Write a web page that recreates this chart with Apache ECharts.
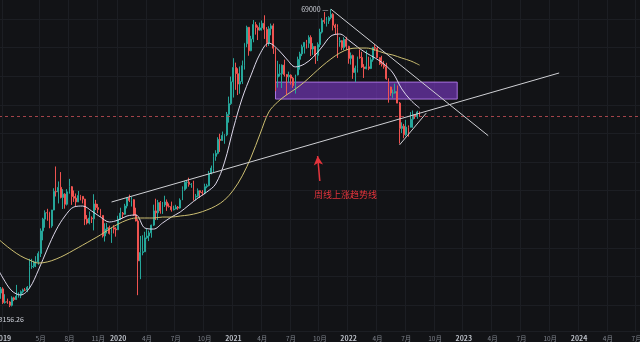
<!DOCTYPE html>
<html>
<head>
<meta charset="utf-8">
<script src="https://cdn.jsdelivr.net/npm/echarts@6/dist/echarts.min.js"></script>
<style>
  html, body { margin: 0; padding: 0; background: #121316; }
  #chart { width: 640px; height: 342px; }
</style>
</head>
<body>
<div id="chart"></div>
<script>
// BTC/USDT weekly candles, one row per week from 2018-12-10: [open, close, low, high]
const candles = [
  [3612, 3252, 3156.26, 3645], [3252, 3948, 3242, 4236], [3948, 3866, 3535, 4198], [3866, 4032, 3645, 4110],
  // 2019
  [4032, 3508, 3460, 4100], [3508, 3535, 3472, 3820], [3535, 3530, 3465, 3653], [3530, 3413, 3350, 3560],
  [3413, 3680, 3373, 3740], [3680, 3620, 3560, 3720], [3620, 3745, 3600, 4198], [3745, 3790, 3690, 3890],
  [3790, 3920, 3670, 3970], [3920, 3990, 3850, 4040], [3990, 3980, 3940, 4070], [3980, 4100, 3900, 4150],
  [4100, 5060, 4060, 5470], [5060, 5070, 4940, 5470], [5070, 5290, 4980, 5360], [5290, 5300, 5030, 5620],
  [5300, 5770, 5150, 5900], [5770, 7260, 5570, 7450], [7260, 8190, 6600, 8300], [8190, 8740, 7500, 8950],
  [8740, 8730, 8050, 9090], [8730, 7640, 7460, 8820], [7640, 8980, 7500, 8990], [8980, 10850, 8960, 11200],
  [10850, 10800, 10300, 13970], [10800, 11300, 9600, 12000], [11300, 10200, 10100, 13200], [10200, 10550, 9070, 11100],
  [10550, 9520, 9100, 10650], [9520, 10800, 9400, 11100], [10800, 11380, 10600, 12320], [11380, 10300, 9460, 11450],
  [10300, 10130, 9750, 10950], [10130, 9750, 9350, 10620], [9750, 10400, 9730, 10900], [10400, 10310, 9900, 10470],
  [10310, 10030, 9600, 10350], [10030, 8200, 7700, 10060], [8200, 7870, 7750, 8530], [7870, 8280, 7760, 8850],
  [8280, 8220, 7870, 8420], [8220, 9550, 7300, 10540], [9550, 9200, 8970, 9950], [9200, 9030, 8700, 9550],
  [9030, 8500, 8370, 9080], [8500, 6900, 6790, 8510], [6900, 7400, 6520, 7850], [7400, 7510, 7080, 7870],
  [7510, 7080, 7000, 7660], [7080, 7500, 6430, 7520], [7500, 7400, 7080, 7700], [7400, 7350, 6850, 7540],
  // 2020
  [7350, 8180, 7340, 8470], [8180, 8700, 8100, 9190], [8700, 8600, 8250, 8800], [8600, 9350, 8560, 9560],
  [9350, 10150, 9130, 10160], [10150, 9900, 9730, 10500], [9900, 9970, 9300, 10250], [9970, 8530, 8450, 10030],
  [8530, 8030, 8000, 9190], [8030, 5360, 3782, 8180], [5360, 5830, 4450, 6900], [5830, 5880, 5670, 6950],
  [5880, 6770, 5860, 7200], [6770, 6900, 6700, 7470], [6900, 7120, 6550, 7290], [7120, 7700, 6780, 7740],
  [7700, 8900, 7630, 9480], [8900, 8720, 8110, 10070], [8720, 9680, 8110, 9950], [9680, 8900, 8650, 9840],
  [8900, 9450, 8630, 9740], [9450, 9740, 9260, 10380], [9740, 9340, 8900, 9990], [9340, 9300, 9200, 9600],
  [9300, 9000, 8830, 9780], [9000, 9070, 8940, 9380], [9070, 9250, 9050, 9470], [9250, 9160, 9000, 9350],
  [9160, 9930, 9100, 10110], [9930, 11050, 9930, 11420], [11050, 11900, 10920, 12080], [11900, 11920, 11150, 12080],
  [11920, 11650, 11380, 12470], [11650, 11650, 11250, 11800], [11650, 10250, 9880, 12090], [10250, 10330, 9900, 10570],
  [10330, 10920, 10200, 11180], [10920, 10740, 10140, 10960], [10740, 10670, 10400, 10980], [10670, 11380, 10530, 11730],
  [11380, 11500, 11200, 11720], [11500, 13030, 11420, 13350], [13030, 13740, 12900, 14100], [13740, 15480, 13200, 15960],
  [15480, 15960, 14800, 16480], [15960, 18400, 15800, 18800], [18400, 18200, 16200, 19480], [18200, 19150, 18100, 19920],
  [19150, 19270, 17600, 19400], [19270, 23730, 19000, 24300], [23730, 26430, 21800, 28400], [26430, 33000, 26100, 34800],
  // 2021
  [33000, 38150, 28130, 41950], [38150, 35830, 30420, 40100], [35830, 32260, 28850, 37850], [32260, 33090, 29240, 38530],
  [33090, 38880, 32300, 40960], [38880, 48580, 37360, 49000], [48580, 57400, 46900, 58350], [57400, 45240, 43000, 57500],
  [45240, 50970, 45000, 52640], [50970, 59020, 49300, 61780], [59020, 57350, 53280, 60630], [57350, 55800, 50430, 58500],
  [55800, 57060, 55450, 60200], [57060, 59770, 55470, 61500], [59770, 56200, 51000, 64850], [56200, 49070, 47000, 57500],
  [49070, 56600, 47500, 58000], [56600, 58250, 52900, 59600], [58250, 46420, 43800, 59600], [46420, 34650, 30000, 46650],
  [34650, 35680, 31100, 40840], [35680, 35800, 34800, 39480], [35800, 39100, 31000, 39380], [39100, 35500, 34800, 41330],
  [35500, 34700, 28800, 35700], [34700, 35290, 32700, 36600], [35290, 34250, 32080, 35600], [34250, 31780, 31020, 34680],
  [31780, 35400, 29280, 35480], [35400, 41460, 35200, 42600], [41460, 43800, 37330, 44770], [43800, 47080, 42840, 48140],
  [47080, 49250, 43960, 49350], [49250, 48800, 46250, 50500], [48800, 51760, 46550, 52920], [51760, 46030, 42850, 52890],
  [46030, 47260, 43370, 48840], [47260, 43200, 39600, 47360], [43200, 48200, 40750, 49230], [48200, 54660, 46900, 56560],
  [54660, 61530, 53880, 62930], [61530, 60850, 59510, 67000], [60850, 61300, 57820, 63700], [61300, 63270, 59400, 64270],
  [63270, 65500, 62280, 69000], [65500, 58620, 55600, 66300], [58620, 57270, 53250, 59480], [57270, 49400, 42000, 59170],
  [49400, 50100, 47100, 51940], [50100, 46680, 45500, 50340], [46680, 50780, 45560, 51900], [50780, 47290, 45680, 52090],
  // 2022
  [47290, 41860, 39650, 47570], [41860, 43080, 39300, 44450], [43080, 36280, 34000, 43500], [36280, 37920, 32900, 38900],
  [37920, 42410, 36250, 42650], [42410, 42200, 41690, 45850], [42200, 38350, 38000, 44760], [38350, 37700, 34320, 39490],
  [37700, 38420, 37450, 45400], [38420, 37780, 37150, 42600], [37780, 41280, 37560, 42330], [41280, 46830, 40460, 46900],
  [46830, 46400, 45200, 48240], [46400, 42160, 42100, 47200], [42160, 39700, 39200, 42400], [39700, 39450, 38540, 42980],
  [39450, 38470, 37700, 40800], [38470, 34060, 33700, 40020], [34060, 31300, 26700, 34240], [31300, 29450, 28630, 31400],
  [29450, 29450, 28020, 30500], [29450, 29900, 29300, 32400], [29900, 26580, 26560, 31800], [26580, 20560, 17620, 26900],
  [20560, 21030, 19630, 21870], [21030, 19300, 18620, 21530], [19300, 20840, 19000, 22420], [20840, 20800, 18900, 21200],
  [20800, 22580, 20760, 24280], [22580, 23630, 20700, 24670], [23630, 23180, 22650, 23650], [23180, 24300, 22660, 24600],
  [24300, 23300, 23100, 24450]
];

// Weekly time scale, with empty weeks to the right of the last candle
const firstWeek = Date.UTC(2018, 11, 10);
const weekSpan = 292;

// Time-scale labels: [week, text]
const tickLabels = [
  ['2019-01-07', '2019'], ['2019-05-06', '5月'], ['2019-08-05', '8月'], ['2019-11-04', '11月'],
  ['2020-01-06', '2020'], ['2020-04-06', '4月'], ['2020-07-06', '7月'], ['2020-10-05', '10月'],
  ['2021-01-04', '2021'], ['2021-04-05', '4月'], ['2021-07-05', '7月'], ['2021-10-04', '10月'],
  ['2022-01-03', '2022'], ['2022-04-04', '4月'], ['2022-07-04', '7月'], ['2022-10-03', '10月'],
  ['2023-01-02', '2023'], ['2023-04-03', '4月'], ['2023-07-03', '7月'], ['2023-10-02', '10月'],
  ['2024-01-01', '2024'], ['2024-04-01', '4月'], ['2024-07-01', '7月']
];

// Moving averages, sampled every fourth week (week numbers count from the first candle)
const maWeeks = [0, 4, 8, 12, 16, 20, 24, 28, 32, 36, 40, 44, 48, 52, 56, 60, 64, 68, 72, 76, 80, 84, 88, 92, 96,
  100, 104, 108, 112, 116, 120, 124, 128, 132, 136, 140, 144, 148, 152, 156, 160, 164, 168, 172, 176, 180, 184, 188, 192];
const maFast = [5300, 4500, 3950, 3790, 4070, 4880, 6040, 7330, 8450, 9260, 9350, 8890, 8360, 7950, 8110, 8450, 8540,
  7480, 7400, 7870, 8360, 8800, 9450, 10140, 10780, 11700, 14600, 20600, 28000, 35400, 43800, 48900, 46000, 41600,
  38400, 39500, 42400, 47000, 52500, 53600, 50400, 47000, 44200, 42000, 39500, 36100, 30700, 27400, 25300];
const maSlow = [6970, 6420, 5980, 5630, 5400, 5240, 5300, 5460, 5690, 5980, 6290, 6620, 6970, 7400, 7790, 8110, 8280,
  8280, 8280, 8360, 8360, 8450, 8540, 8710, 8980, 9350, 9940, 11000, 12700, 15380, 19400, 24300, 26900, 28900,
  30700, 32900, 35700, 38700, 41600, 44200, 46000, 46500, 46500, 45600, 44200, 43300, 42000, 40800, 39100];

// Price markers
const lastPrice = 23300;
const rangeHigh = 69000;   // week 152
const rangeLow = 3156.26;  // week 0

// Drawn annotations: [week, price]
const zoneCorners = [[127, 32900], [209, 27700]];
const uptrendLine = [[53, 9740], [255, 36100]];
const downtrendLine = [[152, 69000], [223, 19100]];
const wedgeLine = [[183, 17400], [195, 24000]];
const arrowLine = [[147, 12060], [146, 15530]];
const noteAnchor = [146, 10460];
const noteText = '周线上涨趋势线';

const DAY = 86400000;
const weeks = Array.from({ length: weekSpan }, (_, k) =>
  new Date(firstWeek + k * 7 * DAY).toISOString().slice(0, 10));
const labelOf = Object.fromEntries(tickLabels);
const at = (p) => [weeks[p[0]], p[1]];

const chart = echarts.init(document.getElementById('chart'), null, { renderer: 'canvas' });

const hasLabel = (index, value) => labelOf[value] !== undefined;
const lineColor = '#cfd0d4';

chart.setOption({
  animation: false,
  backgroundColor: '#121316',
  textStyle: { fontFamily: '"Noto Sans CJK SC", "Noto Sans", sans-serif' },
  grid: { left: -7, right: 0, top: -9.6, bottom: 11, outerBoundsMode: 'none' },
  xAxis: {
    type: 'category',
    data: weeks,
    boundaryGap: true,
    axisLine: { show: true, lineStyle: { color: '#2a2d34' } },
    axisTick: { show: false },
    axisLabel: {
      interval: hasLabel,
      margin: 4,
      formatter: (v) => {
        const t = labelOf[v] || '';
        return /^\d{4}$/.test(t) ? '{y|' + t + '}' : '{m|' + t + '}';
      },
      rich: {
        y: { color: '#b9bdc5', fontSize: 7, fontWeight: 'bold' },
        m: { color: '#7f838c', fontSize: 6.5 }
      }
    },
    splitLine: { show: true, interval: hasLabel, lineStyle: { color: '#1c1e23', width: 1 } }
  },
  yAxis: [
    { type: 'log', logBase: 10, min: 2629, max: 83480, show: false, splitLine: { show: false } },
    {
      type: 'value', inverse: true, min: 0, max: 340.6, interval: 28.6,
      axisLine: { show: false }, axisTick: { show: false }, axisLabel: { show: false },
      splitLine: { show: true, lineStyle: { color: '#1c1e23', width: 1 } }
    }
  ],
  series: [
    {
      name: 'BTCUSDT',
      type: 'candlestick',
      data: candles,
      barWidth: '62%',
      z: 2,
      itemStyle: {
        color: '#26a69a', color0: '#ef5350',
        borderColor: '#26a69a', borderColor0: '#ef5350', borderWidth: 1
      },
      markPoint: {
        silent: true,
        symbol: 'circle',
        symbolSize: 1,
        itemStyle: { color: 'rgba(0,0,0,0)' },
        data: [
          {
            coord: [weeks[152], rangeHigh], value: rangeHigh,
            label: { show: true, position: 'left', distance: 2, formatter: '{c} —', color: '#d1d4dc', fontSize: 7 }
          },
          {
            coord: [weeks[0], rangeLow], value: rangeLow,
            label: { show: true, position: [5, 3], align: 'left', verticalAlign: 'top', formatter: '{c}', color: '#d1d4dc', fontSize: 7 }
          }
        ]
      },
      markLine: {
        silent: true,
        symbol: ['none', 'none'],
        label: { show: false },
        lineStyle: { color: 'rgba(200,80,86,0.8)', type: [3, 3], width: 1 },
        data: [{ yAxis: lastPrice }]
      }
    },
    {
      name: 'MA fast',
      type: 'line',
      data: maWeeks.map((w, k) => [weeks[w], maFast[k]]),
      symbol: 'none',
      smooth: 0.35,
      z: 3,
      lineStyle: { color: '#ddd8ea', width: 1 }
    },
    {
      name: 'MA slow',
      type: 'line',
      data: maWeeks.map((w, k) => [weeks[w], maSlow[k]]),
      symbol: 'none',
      smooth: 0.35,
      z: 3,
      lineStyle: { color: '#cdbf72', width: 1 }
    },
    {
      name: 'zone',
      type: 'line',
      data: [],
      z: 4,
      markArea: {
        silent: true,
        itemStyle: { color: 'rgba(126,58,200,0.62)', borderColor: '#a772dd', borderWidth: 1 },
        data: [[{ coord: at(zoneCorners[0]) }, { coord: at(zoneCorners[1]) }]]
      }
    },
    {
      name: 'trendlines',
      type: 'line',
      data: [],
      z: 5,
      markLine: {
        silent: true,
        symbol: ['none', 'none'],
        label: { show: false },
        lineStyle: { color: lineColor, width: 1, type: 'solid' },
        data: [
          [{ coord: at(uptrendLine[0]) }, { coord: at(uptrendLine[1]) }],
          [{ coord: at(downtrendLine[0]) }, { coord: at(downtrendLine[1]) }],
          [{ coord: at(wedgeLine[0]) }, { coord: at(wedgeLine[1]) }]
        ]
      },
      markPoint: {
        silent: true,
        symbol: 'circle',
        symbolSize: 1,
        itemStyle: { color: 'rgba(0,0,0,0)' },
        data: [{
          coord: at(noteAnchor), value: 0,
          label: {
            show: true, formatter: noteText, position: [-3, 0], align: 'left', verticalAlign: 'middle',
            color: '#e3343c', fontSize: 9
          }
        }]
      }
    },
    {
      name: 'arrow',
      type: 'line',
      data: [],
      z: 5,
      markLine: {
        silent: true,
        symbol: ['none', 'arrow'],
        symbolSize: [7, 9],
        label: { show: false },
        lineStyle: { color: '#e3343c', width: 1.5, type: 'solid' },
        data: [[{ coord: at(arrowLine[0]) }, { coord: at(arrowLine[1]) }]]
      }
    }
  ]
});
</script>
</body>
</html>
